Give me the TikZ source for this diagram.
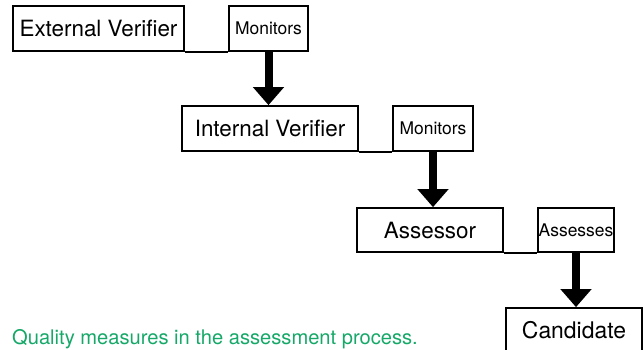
\documentclass[tikz,border=0pt]{standalone}
\usepackage{fontspec}
\setmainfont{TeX Gyre Heros}
\usepackage{xcolor}
\usetikzlibrary{arrows.meta,shapes}

\definecolor{capgreen}{RGB}{22,168,104}

\tikzset{
  rolebox/.style={draw,shape=rectangle,line width=1.7bp,inner sep=0pt,
    minimum height=45bp,font=\fontsize{22.5}{26}\selectfont},
  actbox/.style={draw,shape=rectangle,line width=1.7bp,inner sep=0pt,
    minimum height=45bp,font=\fontsize{17.5}{20}\selectfont},
  link/.style={line width=1.7bp},
  bigarrow/.style={line width=8bp,-{Triangle[width=30bp,length=18bp]}}
}

\begin{document}
\begin{tikzpicture}[x=1bp,y=-1bp]
\useasboundingbox (0,0) rectangle (644,349);

\node (extver) at (98.5,28.5) [rolebox,minimum width=171bp] {External Verifier};
\node (monitorsA) at (268.5,28.5) [actbox,minimum width=79bp] {Monitors};

\node (intver) at (270,128.5) [rolebox,minimum width=176bp] {Internal Verifier};
\node (monitorsB) at (433,128.5) [actbox,minimum width=80bp] {Monitors};

\node (assessor) at (430,230) [rolebox,minimum width=146bp,minimum height=44bp] {Assessor};
\node (assesses) at (576,230) [actbox,minimum width=76bp,minimum height=44bp] {Assesses};

\node (candidate) at (574,330.5) [rolebox,minimum width=136bp,font=\fontsize{23}{26}\selectfont] {Candidate};

\node (caption) at (12,344) [anchor=base west,text=capgreen,inner sep=0pt,
  font=\fontsize{20.2}{24}\selectfont] {Quality measures in the assessment process.};

\draw [link] (extver.south east) -- (monitorsA.south west);
\draw [link] (intver.south east) -- (monitorsB.south west);
\draw [link] (assessor.south east) -- (assesses.south west);

\draw [bigarrow] (monitorsA.south) -- (monitorsA.south |- intver.north);
\draw [bigarrow] (monitorsB.south) -- (monitorsB.south |- assessor.north);
\draw [bigarrow] (assesses.south) -- (assesses.south |- candidate.north);
\end{tikzpicture}
\end{document}
